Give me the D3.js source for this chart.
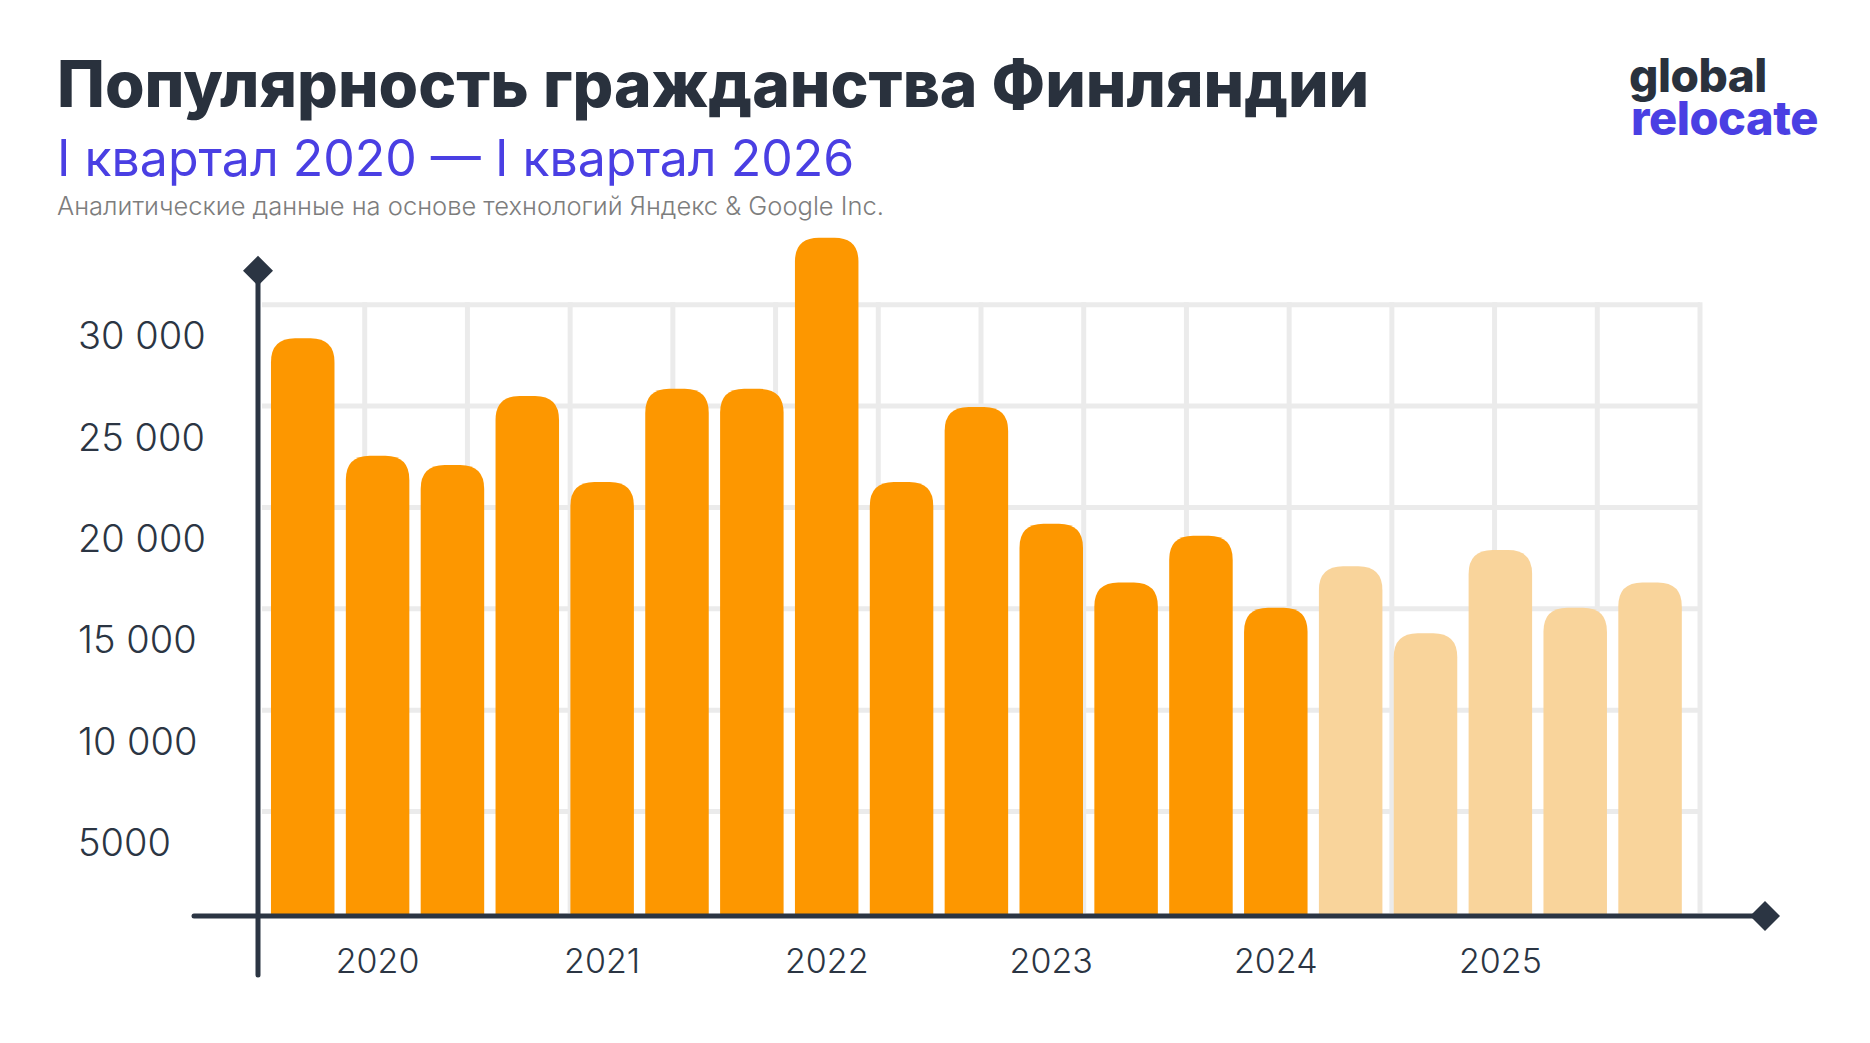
<!DOCTYPE html>
<html>
<head>
<meta charset="utf-8">
<script src="https://cdn.jsdelivr.net/npm/d3@7/dist/d3.min.js"></script>
<style>
  html, body { margin: 0; padding: 0; background: #ffffff; }
  svg { display: block; }
  text { font-family: Inter, "Noto Sans", sans-serif; }
</style>
</head>
<body>
<svg id="chart" width="1870" height="1043"></svg>
<script>
// ---- data ----
const categories = ["2020-1","2020-2","2020-3","2021-1","2021-2","2021-3","2022-1","2022-2","2022-3",
                    "2023-1","2023-2","2023-3","2024-1","2024-2","2024-3","2025-1","2025-2","2025-3","2026-1"];
const values = [28350, 22550, 22100, 25500, 21250, 25850, 25850, 33300, 21250, 24950,
                19200, 16300, 18600, 15050, 17100, 13800, 17900, 15050, 16300];
const estimated = [false,false,false,false,false,false,false,false,false,false,
                   false,false,false,false,true,true,true,true,true];
const yTicks = [5000, 10000, 15000, 20000, 25000, 30000];
const yTickLabels = ["5000", "10 000", "15 000", "20 000", "25 000", "30 000"];
const yearLabels = ["2020", "2021", "2022", "2023", "2024", "2025"];
const yearAnchors = ["2020-2", "2021-2", "2022-2", "2023-2", "2024-2", "2025-2"];
const gridColumns = 14;

const svg = d3.select("#chart");
const dark = "#2b3543";

// ---- scales ----
const x = d3.scaleBand().domain(categories).range([263.5, 1689.3]).paddingInner(0.1516).paddingOuter(0.1);
const y = d3.scaleLinear().domain([0, 30000]).range([913, 304.7]);
const gx = d3.scaleLinear().domain([0, gridColumns]).range([262, 1700]);

// ---- grid ----
const grid = svg.append("g").attr("stroke", "#ebebeb").attr("stroke-width", 5);
grid.selectAll("line.h").data(yTicks).join("line")
  .attr("x1", gx(0)).attr("x2", gx(gridColumns))
  .attr("y1", d => y(d)).attr("y2", d => y(d));
grid.selectAll("line.v").data(d3.range(1, gridColumns + 1)).join("line")
  .attr("x1", d => gx(d)).attr("x2", d => gx(d))
  .attr("y1", y(30000) - 2.5).attr("y2", y(0));

// ---- bars (rounded tops) ----
const r = 24;
function barPath(x0, w, top, bottom) {
  const rr = Math.min(r, w / 2, bottom - top);
  return `M${x0},${bottom}V${top + rr}Q${x0},${top} ${x0 + rr},${top}H${x0 + w - rr}Q${x0 + w},${top} ${x0 + w},${top + rr}V${bottom}Z`;
}
svg.append("g").selectAll("path").data(categories).join("path")
  .attr("d", (c, i) => barPath(x(c), x.bandwidth(), y(values[i]), y(0) + 2))
  .attr("fill", (c, i) => estimated[i] ? "#f9d49b" : "#fd9700");

// ---- axes ----
const axes = svg.append("g").attr("stroke", dark).attr("stroke-width", 5).attr("stroke-linecap", "round");
axes.append("line").attr("x1", 258).attr("x2", 258).attr("y1", 272).attr("y2", 975);
axes.append("line").attr("x1", 194).attr("x2", 1762).attr("y1", 916).attr("y2", 916);
const dm = 15;
svg.append("path").attr("fill", dark)
  .attr("d", `M258,${270.7 - dm}L${258 + dm},270.7L258,${270.7 + dm}L${258 - dm},270.7Z`);
svg.append("path").attr("fill", dark)
  .attr("d", `M1765,${916 - dm}L${1765 + dm},916L1765,${916 + dm}L${1765 - dm},916Z`);

// ---- tick labels ----
svg.append("g").selectAll("text").data(yTicks).join("text")
  .attr("x", 78).attr("y", d => y(d) + 44.5)
  .attr("font-size", 38).attr("font-weight", 300).attr("fill", dark)
  .text((d, i) => yTickLabels[i]);

svg.append("g").selectAll("text").data(yearLabels).join("text")
  .attr("x", (d, i) => x(yearAnchors[i]) + x.bandwidth() / 2)
  .attr("y", 972.5)
  .attr("text-anchor", "middle")
  .attr("font-size", 34).attr("font-weight", 300).attr("fill", dark)
  .text(d => d);

// ---- titles ----
svg.append("text").attr("x", 57).attr("y", 107)
  .attr("font-size", 64).attr("font-weight", 800).attr("fill", "#29313d")
  .text("Популярность гражданства Финляндии");
svg.append("text").attr("x", 57).attr("y", 176)
  .attr("font-size", 50).attr("font-weight", 400).attr("fill", "#4a3fe3")
  .text("I квартал 2020 — I квартал 2026");
svg.append("text").attr("x", 57).attr("y", 215)
  .attr("font-size", 25.5).attr("font-weight", 300).attr("fill", "#7d7d7d")
  .text("Аналитические данные на основе технологий Яндекс & Google Inc.");

// ---- logo ----
svg.append("text").attr("x", 1629).attr("y", 92)
  .attr("font-size", 46).attr("font-weight", 800).attr("letter-spacing", -0.5).attr("fill", "#29313d")
  .text("global");
svg.append("text").attr("x", 1631).attr("y", 135)
  .attr("font-size", 47).attr("font-weight", 800).attr("letter-spacing", -0.5).attr("fill", "#4a3fe3")
  .text("relocate");
</script>
</body>
</html>
